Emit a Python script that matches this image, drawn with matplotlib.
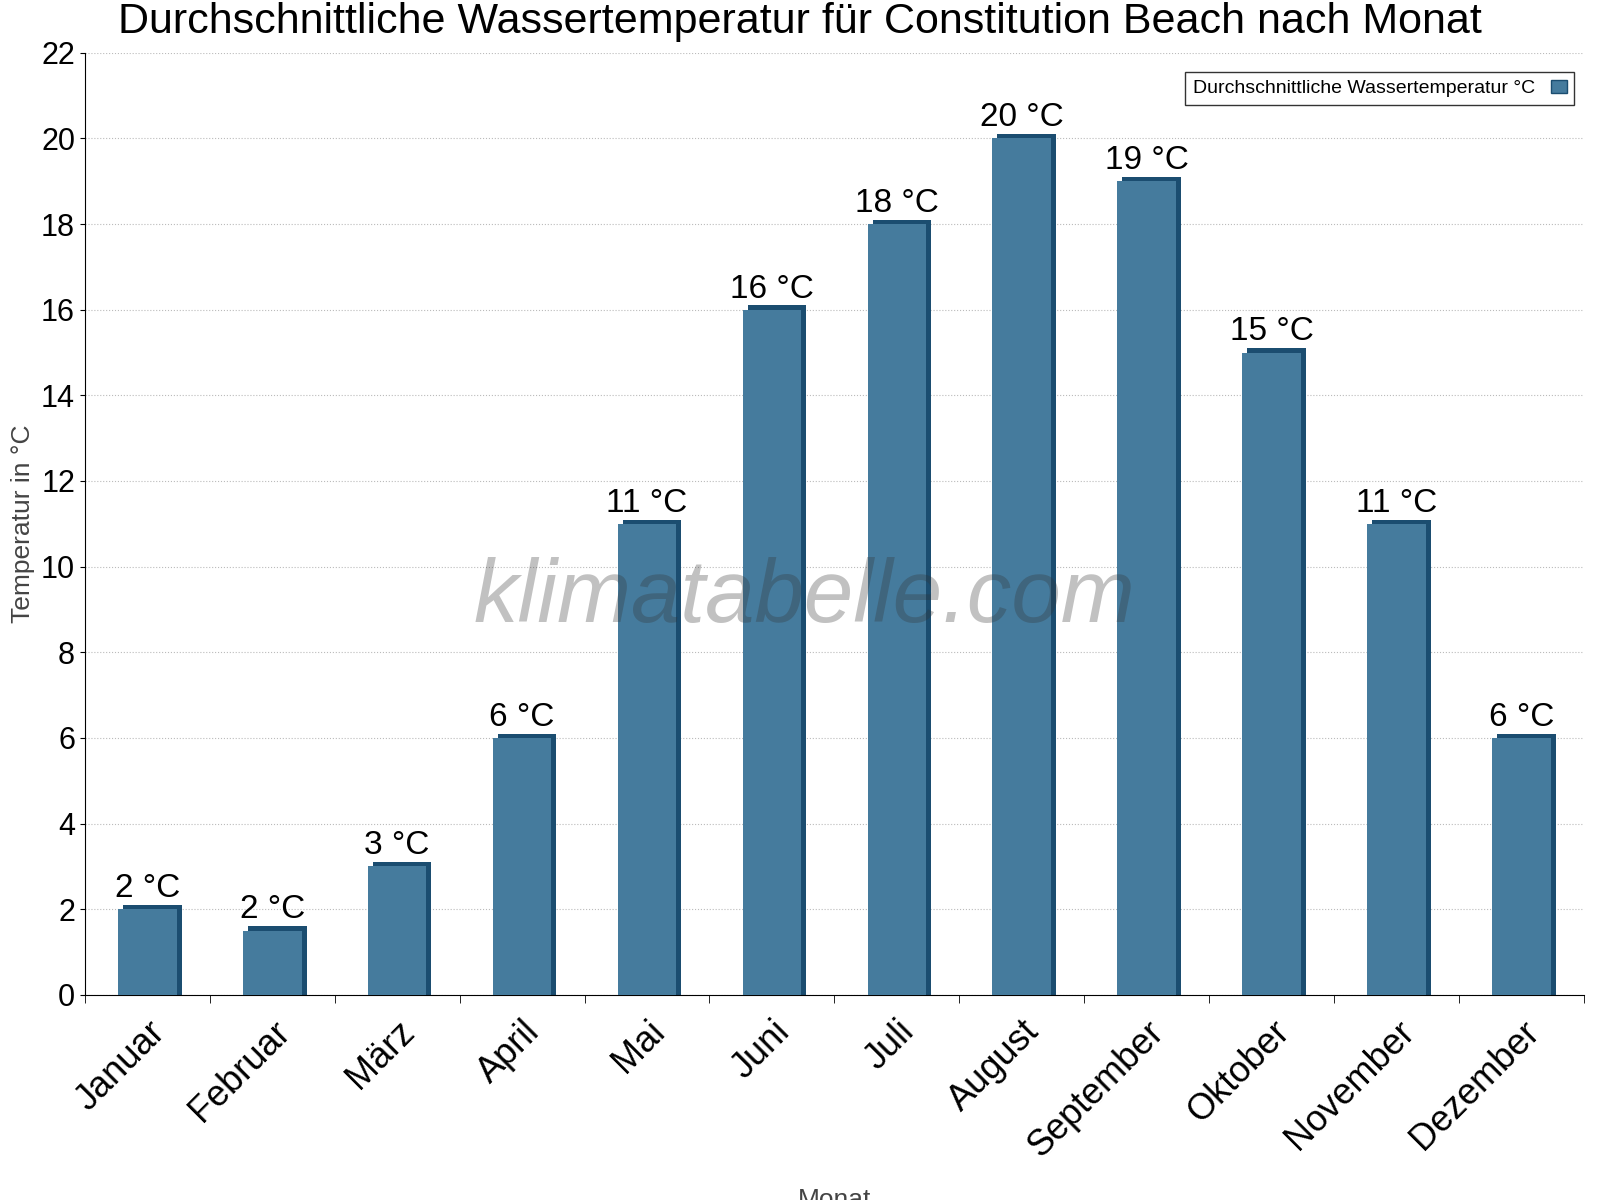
import matplotlib
matplotlib.use("Agg")
import matplotlib.pyplot as plt
import matplotlib.transforms as mtransforms
import numpy as np

plt.rcParams['font.family'] = ['Liberation Sans', 'DejaVu Sans']

months = ["Januar","Februar","März","April","Mai","Juni","Juli","August","September","Oktober","November","Dezember"]
temps = [2, 1.5, 3, 6, 11, 16, 18, 20, 19, 15, 11, 6]
labels = ["2 °C","2 °C","3 °C","6 °C","11 °C","16 °C","18 °C","20 °C","19 °C","15 °C","11 °C","6 °C"]

fig = plt.figure(figsize=(16, 12), dpi=100)
ax = fig.add_axes([0.053, 0.171, 0.937, 0.785])
x = np.arange(len(months))
w = 0.47
ax.bar(x + 0.04, np.array(temps) + 0.1, width=w, color="#1b4d70", zorder=2)
ax.bar(x, temps, width=w, color="#457b9d", zorder=3)
for xi, t, lab in zip(x, temps, labels):
    ax.text(xi, t + 0.12, lab, ha="center", va="bottom", fontsize=24, zorder=4)
ax.set_xlim(-0.5, 11.5)
ax.set_ylim(0, 22)
ax.set_yticks(range(0, 23, 2))
ax.tick_params(axis="y", labelsize=22)
ax.set_xticks(x)
ax.set_xticklabels(months, rotation=45, ha="right", rotation_mode="anchor", fontsize=26)
offset = mtransforms.ScaledTranslation(0.35, 0, fig.dpi_scale_trans)
for lbl in ax.get_xticklabels():
    lbl.set_transform(lbl.get_transform() + offset)
ax.tick_params(axis="x", length=0, pad=14)
ax.set_xticks(np.arange(-0.5, 12, 1), minor=True)
ax.tick_params(axis="x", which="minor", length=6)
ax.yaxis.grid(True, linestyle=":", color="#bbbbbb", zorder=0)
for s in ["top", "right"]:
    ax.spines[s].set_visible(False)
ax.set_ylabel("Temperatur in °C", fontsize=19, color="#444444")
ax.set_xlabel("Monat", fontsize=19, color="#444444")
ax.xaxis.set_label_coords(0.5, -0.205)
fig.text(0.5, 0.982, "Durchschnittliche Wassertemperatur für Constitution Beach nach Monat",
         ha="center", va="center", fontsize=31)
ax.text(0.48, 0.42, "klimatabelle.com", transform=ax.transAxes, ha="center", va="center",
        fontsize=64, style="italic", color="#333333", alpha=0.3, zorder=5)
ax.legend([plt.Rectangle((0, 0), 1, 1, fc="#457b9d", ec="#1b4d70")],
          ["Durchschnittliche Wassertemperatur °C"], loc="upper right",
          fontsize=14, markerfirst=False, fancybox=False, edgecolor="black",
          handlelength=0.8, bbox_to_anchor=(1.0, 0.99))
fig.savefig("out.png")
